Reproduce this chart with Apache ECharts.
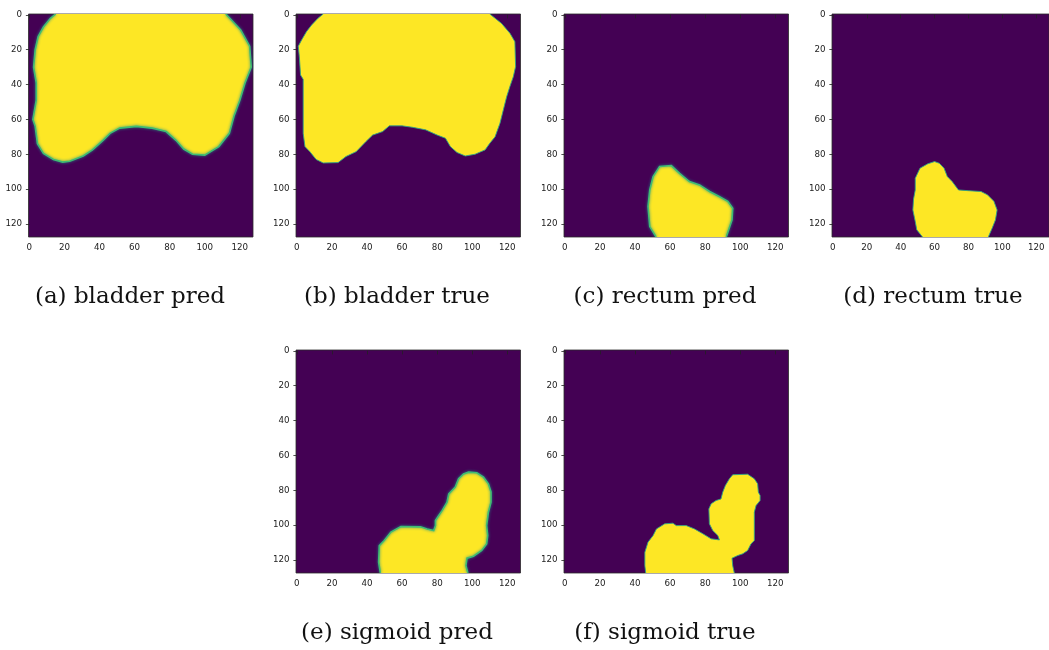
<!DOCTYPE html>
<html>
<head>
<meta charset="utf-8">
<script src="https://cdn.jsdelivr.net/npm/echarts@6/dist/echarts.min.js"></script>
<style>
html,body{margin:0;padding:0;background:#fff;}
#chart{width:1049px;height:650px;}
</style>
</head>
<body>
<div id="chart"></div>
<script>
// Tick labels (both axes, image pixel index)
const tickValues = [0, 20, 40, 60, 80, 100, 120];
const axisMin = -0.5;
const axisMax = 127.5;

// Panel captions
const captions = ['(a) bladder pred', '(b) bladder true', '(c) rectum pred',
                  '(d) rectum true', '(e) sigmoid pred', '(f) sigmoid true'];

// Mask outlines: [column, row] boundary points
const bladderPred = [
  [15,-0.5],[112,-0.5],[120.5,8.7],[125.6,18],[126.5,30],[123,39],[120,49],[116.7,58],
  [114,68],[108,75.6],[100,80.5],[93,80],[88,77],[83.6,72],[78,67],[70,65],[61,64],
  [51.5,65],[46,68],[42,72],[36,77.5],[30.7,81],[23,84],[19,84.5],[13.7,83],[8,79.5],
  [4.6,74],[3.3,64],[2,60],[3.9,49],[3.9,39],[2.4,30],[3.3,20],[5,12.5],[8,7],[12,2]
];
const bladderTrue = [
  [15,-0.5],[110,-0.5],[116.7,4.9],[121.5,10.6],[124.3,15.4],[124.7,29.7],[123.4,35.5],
  [121.5,41],[119.6,47],[117.7,54.6],[115.8,62.2],[113,70],[110,73.7],[107.3,77.5],
  [101.6,80],[96,81],[91.3,79],[87.5,75.6],[84.7,70.8],[80,69],[73.4,66],[65.8,64.5],
  [60,63.7],[52.7,63.7],[48.9,67],[43.2,69],[39.4,72.7],[33.8,78.5],[28,81.3],[23.5,84.8],
  [15,85],[11,83],[7.4,78.5],[4.6,75.6],[3.6,68],[3.6,37],[2.1,34.5],[1.4,24],[0.8,18],
  [2.7,14.4],[5.5,9.6],[8.4,5.8],[12,2]
];
const rectumPred = [
  [52,127.5],[48.4,121.5],[47.4,110],[48.4,100.5],[50.3,92.8],[54,87],[60.7,86.5],
  [65.4,91],[71,95.7],[76.8,97.6],[82.5,101.4],[88,104.3],[92.9,107],[95.7,111],
  [95.3,117.7],[93.4,123.4],[92,127.5]
];
const rectumTrue = [
  [52.9,127.5],[49.5,123.4],[48.6,118.6],[47.2,112],[47.6,105.8],[48.6,100.5],[48.6,93.8],
  [51.4,88],[56,85.5],[60,84.2],[62.8,85.2],[65.6,88],[67.5,92.8],[70.4,95.7],[74.1,100.5],
  [79.8,100.9],[87.4,101.4],[91.2,103.3],[95,107],[96.9,112],[95.9,117.7],[94,122.4],
  [91.7,127.5]
];
const sigmoidPred = [
  [47.6,127.5],[46.6,121.3],[47,111.8],[49.8,108.9],[53.6,104],[59.3,100.8],[70.5,101],
  [74.3,102.2],[78,103.1],[79,100.3],[79,97.4],[80.9,94.5],[82.8,91.7],[85.6,86.9],
  [86.6,82.1],[90.3,78.2],[92.2,73.4],[95,70.6],[97.9,69.6],[102.6,70],[106.4,72.5],
  [109.2,76.3],[110.7,81],[110.7,86.9],[109.2,92.6],[108.2,100.3],[108.8,106],[108.2,110.8],
  [105.4,114.6],[100.7,117.9],[97,119],[96.4,123.3],[97.5,127.5]
];
const sigmoidTrue = [
  [46.1,127.5],[45.6,123.3],[45.6,115.6],[47.4,109.8],[50.3,106],[52.2,102.2],[56.9,99.3],
  [61.6,98.9],[63.5,100.3],[69.2,100.3],[73.9,102.2],[78.7,105],[83.4,107.9],[88.1,108.5],
  [87.2,106],[84.3,103.1],[82.4,99.3],[82.1,90.7],[83.4,87.8],[86.2,85.9],[89,85],[90,81.1],
  [91.5,77.3],[93.8,73.4],[95.7,71.1],[104.2,70.8],[108,73.4],[109.9,76.3],[110.3,81.1],
  [111.3,83],[111.3,85.9],[109,88.8],[108,92.6],[108,108.9],[106.1,110.8],[104.2,114.6],
  [101.4,116.5],[98.5,117.5],[95.3,119],[95.7,123.3],[96.6,127.5]
];

const masks = [bladderPred, bladderTrue, rectumPred, rectumTrue, sigmoidPred, sigmoidTrue];
const isPred = [true, false, true, false, true, false];

// Layout (pixels)
const panelBoxes = [
  {left: 28.5, top: 14, caption: [130, 297]},
  {left: 296, top: 14, caption: [397, 297]},
  {left: 564, top: 14, caption: [665, 297]},
  {left: 832, top: 14, caption: [933, 297]},
  {left: 296, top: 350, caption: [397, 633]},
  {left: 564, top: 350, caption: [665, 633]}
];
const panelW = 224.5, panelH = 223;

const labelStyle = {color: '#222', fontSize: 8.7, fontFamily: 'DejaVu Sans'};

function onBorder(p) { return p[1] === axisMin || p[1] === axisMax; }

const grids = [], xAxes = [], yAxes = [], series = [], graphics = [];
panelBoxes.forEach((b, i) => {
  grids.push({left: b.left, top: b.top, width: panelW, height: panelH,
    show: true, backgroundColor: '#440154', borderColor: '#2b2b2b', borderWidth: 0.8});
  xAxes.push({type: 'value', gridIndex: i, min: axisMin, max: axisMax, position: 'bottom',
    axisLine: {show: false},
    axisTick: {show: true, length: 3.5, lineStyle: {color: '#222', width: 0.8}, customValues: tickValues},
    axisLabel: Object.assign({margin: 6, customValues: tickValues}, labelStyle),
    splitLine: {show: false}});
  yAxes.push({type: 'value', gridIndex: i, min: axisMin, max: axisMax, inverse: true,
    axisLine: {show: false},
    axisTick: {show: true, length: 3.5, lineStyle: {color: '#222', width: 0.8}, customValues: tickValues},
    axisLabel: Object.assign({margin: 6.5, customValues: tickValues}, labelStyle),
    splitLine: {show: false}});
  const pts = masks[i];
  const pred = isPred[i];
  series.push({
    type: 'custom', xAxisIndex: i, yAxisIndex: i, data: pts, silent: true,
    clip: true,
    renderItem: function (params, api) {
      if (params.dataIndex !== 0) return null;
      const poly = pts.map(p => api.coord(p));
      // outline pieces, skipping segments that lie on the image border
      const children = [{
        type: 'polygon', shape: {points: poly},
        style: {fill: '#fde725'}
      }];
      const n = pts.length;
      let run = [];
      const runs = [];
      for (let k = 0; k <= n; k++) {
        const a = pts[k % n], c = pts[(k + 1) % n];
        if (k === n) { if (run.length > 1) runs.push(run); break; }
        if (onBorder(a) && onBorder(c) && a[1] === c[1]) {
          if (run.length > 1) runs.push(run);
          run = [];
        } else {
          if (run.length === 0) run.push(poly[k % n]);
          run.push(poly[(k + 1) % n]);
        }
      }
      runs.forEach(r => children.push({
        type: 'polyline', shape: {points: r},
        style: {
          fill: null,
          stroke: pred ? '#3fbc73' : '#2fa684',
          lineWidth: pred ? 1.6 : 0.9,
          shadowBlur: pred ? 3 : 0,
          shadowColor: '#21918c'
        }
      }));
      return {type: 'group', children: children};
    }
  });
  graphics.push({type: 'text', x: b.caption[0], y: b.caption[1],
    style: {text: captions[i], fill: '#111', font: '23px "DejaVu Serif"',
      textAlign: 'center', textVerticalAlign: 'middle'}});
});

const chart = echarts.init(document.getElementById('chart'), null, {renderer: 'canvas'});
chart.setOption({
  animation: false,
  backgroundColor: '#fff',
  grid: grids, xAxis: xAxes, yAxis: yAxes, series: series, graphic: graphics
});
</script>
</body>
</html>
